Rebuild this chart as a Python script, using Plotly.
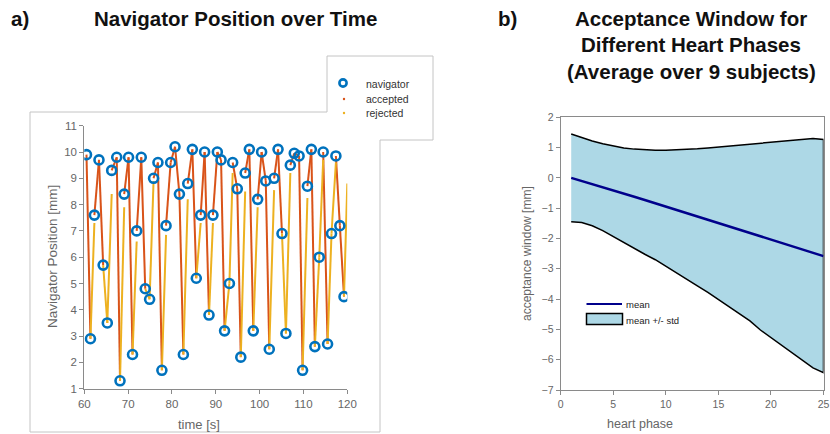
import plotly.graph_objects as go

W, H = 830, 434

# ---------------- panel a) navigator data ----------------
nav_t = [60.5, 61.4, 62.3, 63.35, 64.3, 65.25, 66.25, 67.4, 68.15, 69.1,
         70.1, 71.0, 71.95, 73.0, 73.9, 74.9, 75.8, 76.8, 77.7, 78.65,
         79.7, 80.7, 81.7, 82.6, 83.6, 84.65, 85.55, 86.55, 87.45, 88.45,
         89.35, 90.35, 91.2, 92.0, 93.1, 93.85, 94.9, 95.7, 96.7, 97.65,
         98.55, 99.55, 100.45, 101.4, 102.2, 103.3, 104.2, 105.1, 106.0, 107.0,
         107.9, 109.0, 109.8, 110.9, 111.8, 112.6, 113.6, 114.5, 115.5, 116.4,
         117.4, 118.3, 119.25]
nav_v = [9.9, 2.9, 7.6, 9.7, 5.7, 3.5, 9.3, 9.8, 1.3, 8.4,
         9.8, 2.3, 7.0, 9.8, 4.8, 4.4, 9.0, 9.6, 1.7, 7.2,
         9.6, 10.2, 8.4, 2.3, 8.8, 10.1, 5.2, 7.6, 10.0, 3.8,
         7.6, 10.0, 9.7, 3.2, 5.0, 9.6, 8.6, 2.2, 9.2, 10.1,
         3.2, 8.2, 10.0, 8.9, 2.5, 9.0, 10.1, 6.9, 3.1, 9.5,
         9.95, 9.85, 1.7, 8.7, 10.1, 2.6, 6.0, 10.0, 2.7, 6.9,
         9.85, 7.2, 4.5]

# state of each step between consecutive samples: A = accepted, R = rejected
seg_state = ("ARAARRAARAARAARRAARAAAARAARAARAAARRAARAARAAARAARRAAARAARRARRAA")
# end value of a rejected step when it stops short of the next sample
rej_end = {1: 7.3, 5: 8.4, 8: 7.9, 11: 6.6, 15: 8.9, 18: 6.85, 23: 8.2,
           26: 7.3, 29: 7.3, 34: 9.2, 37: 8.5, 40: 7.9, 44: 8.55, 48: 9.2,
           52: 8.25, 56: 9.7, 59: 9.6}
# trailing rejected step at the end of the window
tail_t, tail_v = 120.0, 8.8

acc_x, acc_y, rej_x, rej_y = [], [], [], []
for i, s in enumerate(seg_state[:len(nav_t) - 1]):
    if s == "A":
        acc_x += [nav_t[i], nav_t[i + 1], None]
        acc_y += [nav_v[i], nav_v[i + 1], None]
    else:
        rej_x += [nav_t[i], nav_t[i + 1], None]
        rej_y += [nav_v[i], rej_end.get(i, nav_v[i + 1]), None]
rej_x += [nav_t[-1], tail_t, None]
rej_y += [nav_v[-1], tail_v, None]

# ---------------- panel b) acceptance window ----------------
phase = list(range(1, 26))
mean_win = [0.00, -0.10, -0.20, -0.30, -0.40, -0.51, -0.62, -0.73, -0.84, -0.95,
            -1.06, -1.17, -1.28, -1.39, -1.50, -1.61, -1.72, -1.83, -1.94, -2.05,
            -2.16, -2.27, -2.38, -2.48, -2.58]
upper_win = [1.45, 1.33, 1.22, 1.13, 1.05, 0.99, 0.95, 0.92, 0.91, 0.91,
             0.92, 0.93, 0.96, 0.99, 1.02, 1.05, 1.08, 1.11, 1.14, 1.17,
             1.20, 1.24, 1.28, 1.30, 1.27]
lower_win = [-1.45, -1.47, -1.58, -1.74, -1.93, -2.13, -2.33, -2.52, -2.70, -2.90,
             -3.12, -3.34, -3.56, -3.78, -4.01, -4.24, -4.48, -4.72, -5.02, -5.28,
             -5.53, -5.78, -6.02, -6.27, -6.43]

ORANGE = "#D95319"
YELLOW = "#EDB120"
BLUE = "#0072BD"
FONT = "Arial, Liberation Sans, sans-serif"


def px(x):
    return x / W


def py(y):
    return 1 - y / H


fig = go.Figure()

fig.add_trace(go.Scatter(x=acc_x, y=acc_y, mode="lines", xaxis="x", yaxis="y",
                         line=dict(color=ORANGE, width=2), showlegend=False,
                         connectgaps=False))
fig.add_trace(go.Scatter(x=rej_x, y=rej_y, mode="lines", xaxis="x", yaxis="y",
                         line=dict(color=YELLOW, width=2), showlegend=False,
                         connectgaps=False))
fig.add_trace(go.Scatter(x=nav_t, y=nav_v, mode="markers", xaxis="x", yaxis="y",
                         marker=dict(symbol="circle-open", size=9, color=BLUE,
                                     line=dict(width=2.6, color=BLUE)),
                         showlegend=False))

# acceptance window band
fig.add_trace(go.Scatter(x=phase + phase[::-1], y=upper_win + lower_win[::-1],
                         mode="lines", fill="toself", fillcolor="#ADD8E6",
                         line=dict(color="black", width=1.5),
                         xaxis="x2", yaxis="y2", showlegend=False))
fig.add_trace(go.Scatter(x=phase, y=mean_win, mode="lines",
                         line=dict(color="#00008B", width=2.5),
                         xaxis="x2", yaxis="y2", showlegend=False))

axis_common = dict(showgrid=False, zeroline=False, showline=True,
                   linecolor="#8a8a8a", linewidth=1, ticks="outside",
                   ticklen=4, tickcolor="#8a8a8a", automargin=False,
                   ticklabeloverflow="allow")

fig.update_layout(
    width=W, height=H,
    margin=dict(l=0, r=0, t=0, b=0),
    paper_bgcolor="white", plot_bgcolor="white",
    showlegend=False,
    font=dict(family=FONT, color="#5a5a5a"),
    xaxis=dict(domain=[px(84.3), px(347.3)], range=[60, 120],
               tickvals=[60, 70, 80, 90, 100, 110, 120],
               tickfont=dict(size=11.5, color="#666666"), anchor="y",
               **axis_common),
    yaxis=dict(domain=[py(388.7), py(125.7)], range=[1, 11],
               tickvals=list(range(1, 12)),
               tickfont=dict(size=11.5, color="#666666"), anchor="x",
               **axis_common),
    xaxis2=dict(domain=[px(560.7), px(823.5)], range=[0, 25],
                tickvals=[0, 5, 10, 15, 20, 25], mirror=True,
                tickfont=dict(size=10.5, color="#666666"), anchor="y2",
                **axis_common),
    yaxis2=dict(domain=[py(390), py(117.3)], range=[-7, 2],
                tickvals=list(range(-7, 3)), mirror=True,
                tickfont=dict(size=10.5, color="#666666"), anchor="x2",
                **axis_common),
)

# frame around panel a) and its legend box
frame = (f"M {px(30)},{py(112)} L {px(327)},{py(112)} L {px(327)},{py(56)} "
         f"L {px(433)},{py(56)} L {px(433)},{py(140)} L {px(380)},{py(140)} "
         f"L {px(380)},{py(432)} L {px(30)},{py(432)} Z")
shapes = [dict(type="path", path=frame, xref="paper", yref="paper",
               line=dict(color="#c4c4c4", width=1), fillcolor="rgba(0,0,0,0)",
               layer="below")]


def dot(cx, cy, r, color, fill, width=0):
    return dict(type="circle", xref="paper", yref="paper",
                x0=px(cx - r), x1=px(cx + r), y0=py(cy + r), y1=py(cy - r),
                line=dict(color=color, width=width), fillcolor=fill)


# legend glyphs for panel a)
shapes.append(dot(343, 83, 3.6, BLUE, "rgba(0,0,0,0)", 2.6))
shapes.append(dot(344, 99, 1.2, ORANGE, ORANGE))
shapes.append(dot(344, 113, 1.2, YELLOW, YELLOW))
# legend glyphs for panel b)
shapes.append(dict(type="line", xref="paper", yref="paper",
                   x0=px(586.5), x1=px(622), y0=py(304), y1=py(304),
                   line=dict(color="#00008B", width=2)))
shapes.append(dict(type="rect", xref="paper", yref="paper",
                   x0=px(586.5), x1=px(622.5), y0=py(324.5), y1=py(313.5),
                   line=dict(color="black", width=1.5), fillcolor="#ADD8E6"))

annotations = []


def text(x, y, s, size, color="#333333", xanchor="left", bold=False, angle=0):
    annotations.append(dict(x=px(x), y=py(y), xref="paper", yref="paper",
                            text=f"<b>{s}</b>" if bold else s, showarrow=False,
                            xanchor=xanchor, yanchor="middle", textangle=angle,
                            font=dict(family=FONT, size=size, color=color)))


text(9, 18, "a)", 20.5, "#111111", bold=True)
text(235, 18, "Navigator Position over Time", 20.5, "#111111", "center", True)
text(496, 18, "b)", 20.5, "#111111", bold=True)
text(691, 18, "Acceptance Window for", 20.5, "#111111", "center", True)
text(691, 45, "Different Heart Phases", 20.5, "#111111", "center", True)
text(691, 71, "(Average over 9 subjects)", 20.5, "#111111", "center", True)

text(52, 257, "Navigator Position [mm]", 13.5, "#666666", "center", angle=-90)
text(199, 424, "time [s]", 13, "#666666", "center")
text(527, 254, "acceptance window [mm]", 12, "#666666", "center", angle=-90)
text(640, 424, "heart phase", 12.5, "#666666", "center")

text(364, 84, "navigator", 10.5)
text(364, 99, "accepted", 10.5)
text(364, 113, "rejected", 10.5)
text(623.5, 304, "mean", 9.5, "#222222")
text(623.5, 320, "mean +/- std", 9.5, "#222222")

fig.update_layout(shapes=shapes, annotations=annotations)

fig.write_html("out.html")
